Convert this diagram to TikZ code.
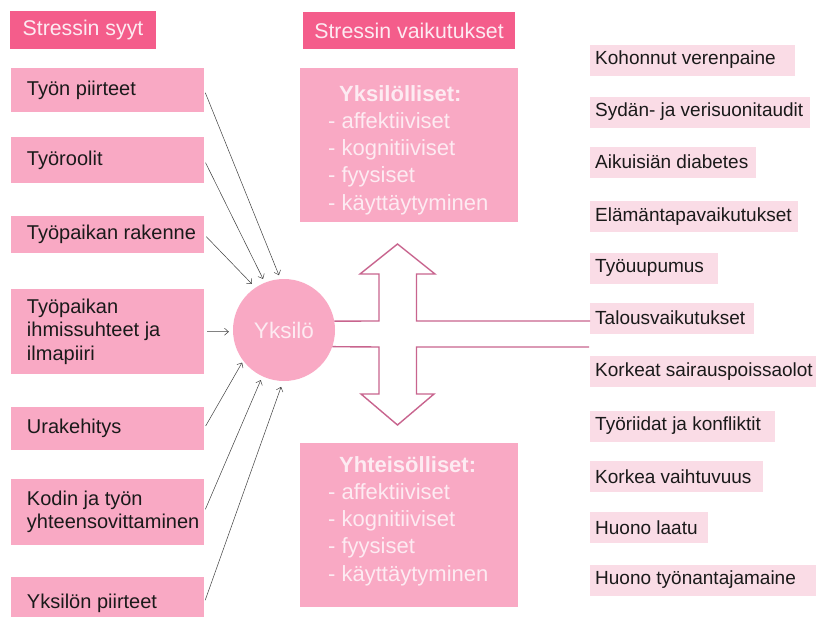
\documentclass[tikz,border=0pt]{standalone}
\usepackage{fontspec}
\setmainfont{Liberation Sans}
\usetikzlibrary{arrows.meta}
\definecolor{hot}{HTML}{F45D8B}
\definecolor{lpink}{HTML}{F9A9C4}
\definecolor{vpink}{HTML}{FADCE6}
\definecolor{mauve}{HTML}{C8648E}
\definecolor{ptext}{HTML}{FDEBF2}
\definecolor{dtext}{HTML}{1A1A1A}
\newcommand\rtx[2]{\makebox[#1pt][l]{#2}}
\begin{document}
\begin{tikzpicture}[x=1pt,y=-1pt,
  hdr/.style={fill=hot, text=ptext, font=\fontsize{21.3}{25}\selectfont, inner sep=0pt},
  lbox/.style={fill=lpink, minimum width=193pt, inner sep=0pt},
  ltext/.style={anchor=west, align=left, text=dtext, font=\fontsize{20}{23.5}\selectfont, inner sep=0pt},
  rbox/.style={fill=vpink, anchor=west, inner xsep=5pt, inner ysep=0pt, minimum height=31pt, text=dtext, font=\fontsize{19}{23}\selectfont},
  bigbox/.style={fill=lpink, minimum width=218pt, inner sep=0pt},
  btext/.style={anchor=west, align=left, text=ptext, font=\fontsize{22}{27.2}\selectfont, inner sep=0pt},
  cause/.style={draw=black!75, line width=0.5pt, -{Straight Barb[length=4pt,width=7pt]}, shorten <=3pt},
  cross/.style={draw=mauve, line width=1.4pt, line join=miter}]
\useasboundingbox (0,0) rectangle (816,616);
\clip (0,0) rectangle (816,616);
\fill[white] (0,0) rectangle (816,616);

% headers
\node[hdr, minimum width=146pt, minimum height=38pt] (h1) at (83,30) {Stressin syyt};
\node[hdr, minimum width=212pt, minimum height=37pt] (h2) at (409,30.5) {Stressin vaikutukset};

% left boxes
\node[lbox, minimum height=44pt] (b1) at (107.5,90) {};
\node[lbox, minimum height=46pt] (b2) at (107.5,160) {};
\node[lbox, minimum height=37pt] (b3) at (107.5,234.5) {};
\node[lbox, minimum height=85pt] (b4) at (107.5,331.5) {};
\node[lbox, minimum height=43pt] (b5) at (107.5,428.5) {};
\node[lbox, minimum height=66pt] (b6) at (107.5,512) {};
\node[lbox, minimum height=52pt] (b7) at (107.5,603) {};
\node[ltext] (t1) at ([xshift=16pt]b1.west) {Työn piirteet};
\node[ltext] (t2) at ([xshift=16pt]b2.west) {Työroolit};
\node[ltext] (t3) at ([xshift=16pt]b3.west) {Työpaikan rakenne};
\node[ltext] (t4) at ([xshift=16pt]b4.west) {Työpaikan\\ihmissuhteet ja\\ilmapiiri};
\node[ltext] (t5) at ([xshift=16pt]b5.west) {Urakehitys};
\node[ltext] (t6) at ([xshift=16pt]b6.west) {Kodin ja työn\\yhteensovittaminen};
\node[ltext] (t7) at ([xshift=16pt]b7.west) {Yksilön piirteet};

% circle
\node[circle, fill=lpink, minimum size=102pt, inner sep=0pt, text=ptext,
      font=\fontsize{22.5}{26}\selectfont] (yk) at (284,330) {Yksilö};

% arrows
\draw[cause, shorten >=4pt] (b1.east) -- (yk.94);
\draw[cause, shorten >=4pt] (b2.east) -- (yk.112);
\draw[cause, shorten >=5pt] (b3.east) -- (yk.124);
\draw[cause, shorten >=4pt] (b4.east) -- (yk.182);
\draw[cause, shorten >=2pt] (b5.east) -- (yk.217);
\draw[cause, shorten >=4pt] (b6.east) -- (yk.245);
\draw[cause, shorten >=6pt] (b7.east) -- (yk.269);

% big boxes
\node[bigbox, minimum height=154pt] (yb1) at (409,145) {};
\node[bigbox, minimum height=164pt] (yb2) at (409,525) {};
\node[btext] (yt1) at (328,150) {\hspace*{11pt}\textbf{Yksilölliset:}\\- affektiiviset\\- kognitiiviset\\- fyysiset\\- käyttäytyminen};
\node[btext] (yt2) at (328,521) {\hspace*{11pt}\textbf{Yhteisölliset:}\\- affektiiviset\\- kognitiiviset\\- fyysiset\\- käyttäytyminen};

% right boxes
\node[rbox] (r1) at (590,60) {\rtx{195}{Kohonnut verenpaine}};
\node[rbox] (r2) at (590,112) {\rtx{210}{Sydän- ja verisuonitaudit}};
\node[rbox] (r3) at (590,162) {\rtx{156}{Aikuisiän diabetes}};
\node[rbox] (r4) at (590,216.5) {\rtx{198}{Elämäntapavaikutukset}};
\node[rbox] (r5) at (590,268) {\rtx{118}{Työuupumus}};
\node[rbox] (r6) at (590,318) {\rtx{154}{Talousvaikutukset}};
\node[rbox] (r7) at (590,371.5) {\rtx{216}{Korkeat sairauspoissaolot}};
\node[rbox] (r8) at (590,426) {\rtx{175}{Työriidat ja konfliktit}};
\node[rbox] (r9) at (590,476.5) {\rtx{163}{Korkea vaihtuvuus}};
\node[rbox] (r10) at (590,527.5) {\rtx{108}{Huono laatu}};
\node[rbox] (r11) at (590,580) {\rtx{220}{Huono työnantajamaine}};

% cross arrow
\coordinate (c1) at (0,321);
\coordinate (c2) at (0,347);
\draw[cross] (yk.10) -- (379,321) -- (379,274) -- (360,274) -- (397.5,244) -- (435,274) -- (416.5,274) -- (416.5,321) -- (r6.west |- c1);
\draw[cross] ([xshift=-1pt]r6.west |- c2) -- (416.5,347) -- (416.5,394) -- (434,394) -- (397.5,425) -- (361,394) -- (379,394) -- (379,347) -- (yk.-19.5);
\end{tikzpicture}
\end{document}
